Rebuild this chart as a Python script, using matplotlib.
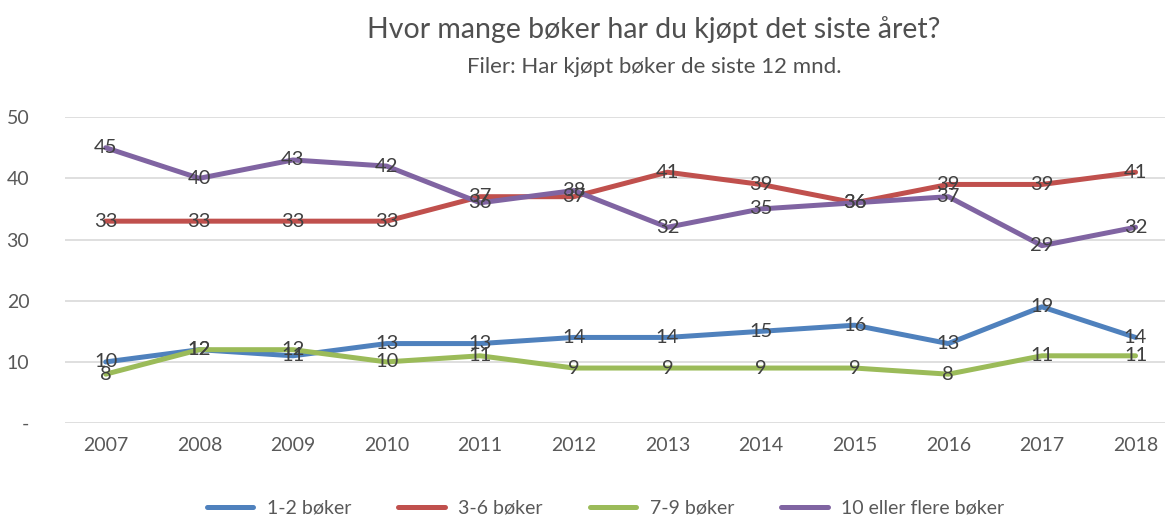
import numpy as np
import matplotlib.pyplot as plt

years = ['2007', '2008', '2009', '2010', '2011', '2012', '2013', '2014', '2015', '2016', '2017', '2018']
b12 = [10, 12, 11, 13, 13, 14, 14, 15, 16, 13, 19, 14]
b36 = [33, 33, 33, 33, 37, 37, 41, 39, 36, 39, 39, 41]
b79 = [8, 12, 12, 10, 11, 9, 9, 9, 9, 8, 11, 11]
b10 = [45, 40, 43, 42, 36, 38, 32, 35, 36, 37, 29, 32]

series = [
    ('1-2 bøker', b12, '#4F81BD'),
    ('3-6 bøker', b36, '#C0504D'),
    ('7-9 bøker', b79, '#9BBB59'),
    ('10 eller flere bøker', b10, '#8064A2'),
]

plt.rcParams['font.family'] = ['Lato', 'DejaVu Sans']

fig = plt.figure(figsize=(11.69, 5.16), dpi=100)
ax = fig.add_axes([0.056, 0.18, 0.941, 0.593])

x = np.arange(len(years))
for name, vals, col in series:
    ax.plot(x, vals, color=col, lw=3.6, label=name, solid_capstyle='round')
for name, vals, col in series:
    for xi, v in zip(x, vals):
        ax.text(xi, v, str(v), ha='center', va='center', fontsize=14.5, color='#404040')

ax.set_ylim(0, 50)
ax.set_xlim(-0.43, 11.32)
ax.set_yticks([0, 10, 20, 30, 40, 50])
ax.set_yticklabels(['-', '10', '20', '30', '40', '50'])
ax.set_xticks(x)
ax.set_xticklabels(years)
ax.tick_params(length=0, labelsize=14, colors='#595959')
ax.tick_params(axis='y', pad=26)
ax.tick_params(axis='x', pad=10)
ax.grid(axis='y', color='#D9D9D9', lw=1.2)
ax.set_axisbelow(True)
for s in ax.spines.values():
    s.set_visible(False)

fig.text(0.559, 0.942, 'Hvor mange bøker har du kjøpt det siste året?', ha='center', va='center',
         fontsize=20.5, color='#505050')
fig.text(0.56, 0.87, 'Filer: Har kjøpt bøker de siste 12 mnd.', ha='center', va='center',
         fontsize=16, color='#505050')

fig.legend(loc='center', bbox_to_anchor=(0.518, 0.015), ncol=4, frameon=False,
           fontsize=14, labelcolor='#595959', handlelength=2.4, handletextpad=0.7,
           columnspacing=2.4)

fig.savefig('out.png', dpi=100)
